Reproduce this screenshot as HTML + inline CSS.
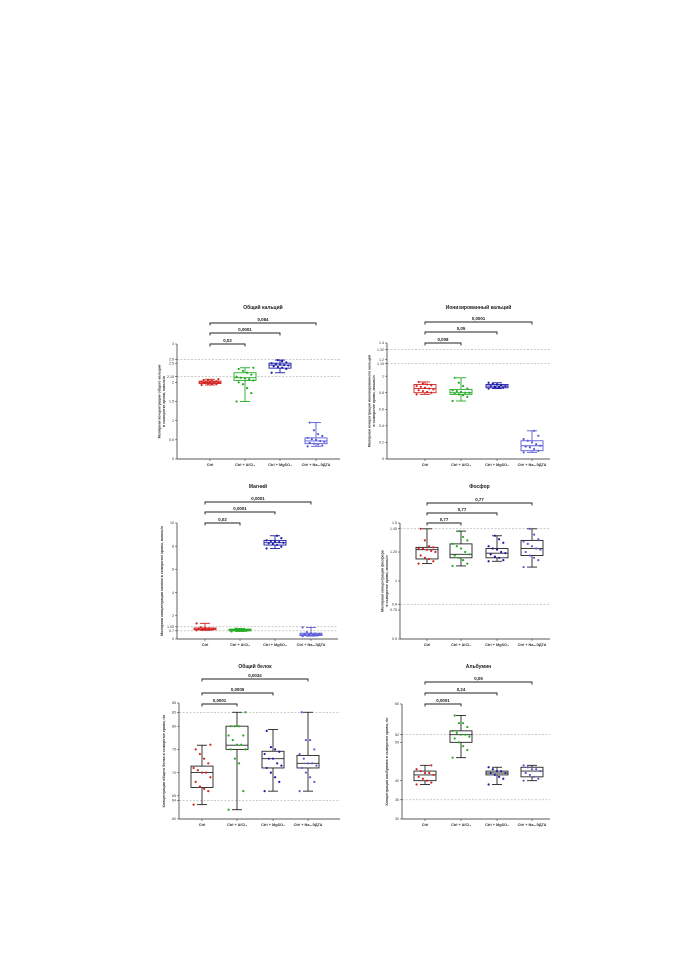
<!DOCTYPE html>
<html><head><meta charset="utf-8">
<style>
html,body{margin:0;padding:0;background:#fff;}
svg{display:block;font-family:"Liberation Sans","DejaVu Sans",sans-serif;}
</style></head>
<body>
<svg id="fig" width="678" height="960" viewBox="0 0 678 960" xmlns="http://www.w3.org/2000/svg"></svg>
<script>
// ---- shared categories ----
const categories = ["Ctrl", "Ctrl + AlCl\u2083", "Ctrl + MgSO\u2084", "Ctrl + Na\u2082-ЭДТА"];
const colors = ["#d42222", "#22aa22", "#1b1ba6", "#5a5ad8"];

// ---- Panel 1: total calcium ----
const caMed = [2.0, 2.12, 2.45, 0.47];
const caQ1 = [1.97, 2.05, 2.37, 0.40];
const caQ3 = [2.03, 2.25, 2.50, 0.55];
const caLo = [1.93, 1.50, 2.25, 0.33];
const caHi = [2.08, 2.38, 2.58, 0.95];
const caPts = [
  [1.93,1.95,1.96,1.97,1.98,1.99,2.0,2.0,2.01,2.02,2.03,2.04,2.05,2.06,2.08],
  [1.5,1.72,1.85,1.95,2.0,2.05,2.08,2.1,2.12,2.15,2.2,2.25,2.3,2.35,2.38],
  [2.25,2.35,2.38,2.4,2.42,2.44,2.45,2.46,2.48,2.5,2.52,2.55,2.58],
  [0.33,0.35,0.38,0.4,0.42,0.45,0.47,0.5,0.52,0.55,0.6,0.65,0.75,0.95]];
const caTicks = [0, 0.5, 1.0, 1.5, 2.0, 2.15, 2.5, 2.6, 3.0];
const caRef = [2.15, 2.6];
const caP = ["0,02", "0,0001", "0,084"];

// ---- Panel 2: ionized calcium ----
const ionMed = [0.85, 0.80, 0.88, 0.16];
const ionQ1 = [0.80, 0.78, 0.86, 0.10];
const ionQ3 = [0.90, 0.84, 0.90, 0.22];
const ionLo = [0.78, 0.70, 0.85, 0.08];
const ionHi = [0.93, 0.98, 0.92, 0.34];
const ionPts = [
  [0.78,0.8,0.81,0.82,0.83,0.84,0.85,0.86,0.87,0.88,0.89,0.9,0.91,0.93],
  [0.7,0.75,0.77,0.78,0.79,0.8,0.8,0.81,0.82,0.83,0.85,0.88,0.92,0.98],
  [0.85,0.86,0.87,0.87,0.88,0.88,0.89,0.9,0.91,0.92],
  [0.08,0.1,0.12,0.14,0.15,0.16,0.18,0.2,0.22,0.24,0.28,0.34]];
const ionTicks = [0, 0.2, 0.4, 0.6, 0.8, 1.0, 1.15, 1.2, 1.32, 1.4];
const ionRef = [1.15, 1.32];
const ionP = ["0,008", "0,05", "0,0001"];

// ---- Panel 3: magnesium ----
const mgMed = [0.85, 0.78, 8.3, 0.40];
const mgQ1 = [0.80, 0.70, 8.1, 0.30];
const mgQ3 = [0.95, 0.85, 8.5, 0.50];
const mgLo = [0.75, 0.65, 7.8, 0.25];
const mgHi = [1.35, 0.90, 8.9, 1.00];
const mgPts = [
  [0.75,0.8,0.82,0.85,0.87,0.9,0.93,0.95,1.0,1.35],
  [0.65,0.7,0.72,0.75,0.78,0.8,0.82,0.85,0.9],
  [7.8,7.95,8.1,8.2,8.25,8.3,8.35,8.4,8.45,8.5,8.7,8.9],
  [0.25,0.3,0.35,0.38,0.4,0.42,0.45,0.5,0.6,1.0]];
const mgTicks = [0, 0.7, 1.05, 2, 4, 6, 8, 10];
const mgRef = [0.7, 1.05];
const mgP = ["0,02", "0,0001", "0,0001"];

// ---- Panel 4: phosphorus ----
const phMed = [1.27, 1.23, 1.24, 1.28];
const phQ1 = [1.19, 1.20, 1.20, 1.22];
const phQ3 = [1.29, 1.32, 1.28, 1.35];
const phLo = [1.15, 1.13, 1.17, 1.12];
const phHi = [1.45, 1.43, 1.39, 1.45];
const phPts = [
  [1.15,1.17,1.19,1.2,1.22,1.25,1.26,1.27,1.28,1.28,1.29,1.3,1.35,1.45],
  [1.13,1.15,1.18,1.2,1.22,1.23,1.25,1.28,1.3,1.32,1.35,1.38,1.43],
  [1.17,1.18,1.2,1.21,1.23,1.24,1.25,1.27,1.28,1.3,1.33,1.36,1.39],
  [1.12,1.18,1.2,1.22,1.25,1.27,1.28,1.3,1.32,1.34,1.36,1.4,1.45]];
const phTicks = [0.5, 0.75, 0.8, 1.0, 1.25, 1.45, 1.5];
const phRef = [0.8, 1.45];
const phP = ["0,77", "0,77", "0,77"];

// ---- Panel 5: total protein ----
const tpMed = [70, 75.9, 73, 72];
const tpQ1 = [66.8, 75, 71, 71];
const tpQ3 = [71.4, 80, 74.6, 73.7];
const tpLo = [63.1, 62, 66, 66];
const tpHi = [75.9, 83, 79.3, 83];
const tpPts = [
  [63.1,66,66.5,67,68,69,70,70,70.5,71,72,73,74,75,76],
  [62,66,72,73,75,75,76,76,77,78,78,80,80,80,83],
  [66,68,69,70,71,71.5,72,73,73,74,74.5,75,75.5,79],
  [66,68,69,70,71,71.5,72,72,73,74,75,77,77,83]];
const tpTicks = [60, 64, 65, 70, 75, 80, 83, 85];
const tpRef = [64, 83];
const tpP = ["0,0001", "0,0005", "0,0034"];

// ---- Panel 6: albumin ----
const alMed = [41.5, 52, 42, 42.5];
const alQ1 = [40, 50, 41.5, 41];
const alQ3 = [42.5, 53, 42.5, 43.5];
const alLo = [39, 46, 39, 40];
const alHi = [44, 57, 43.5, 44];
const alPts = [
  [39,39.5,40,40.5,41,41.5,42,42,42.5,43,44],
  [46,48,49,50,51,51.5,52,52,52.5,53,54,55,55,57],
  [39,40.5,41,41.5,42,42,42.5,42.5,43,43.5],
  [40,40.5,41,41.5,42,42.5,43,43,43.5,44]];
const alTicks = [30, 35, 40, 50, 52, 60];
const alRef = [35, 52];
const alP = ["0,0001", "0,24", "0,05"];

const NS = "http://www.w3.org/2000/svg";
const svg = document.getElementById("fig");
function mk(tag, attrs, parent) {
  const e = document.createElementNS(NS, tag);
  for (const k in attrs) e.setAttribute(k, attrs[k]);
  (parent || svg).appendChild(e);
  return e;
}

const panels = [
  {id:"total-calcium", title:"Общий кальций", ylab:["Молярная концентрация общего кальция","в сыворотке крови, ммоль/л"],
   axX:177, top:344, bot:459, ymin:0, ymax:3.0, cx:[210,245,280,316], right:340, br:[344,333,323], titleY:309,
   med:caMed,q1:caQ1,q3:caQ3,lo:caLo,hi:caHi,pts:caPts,ticks:caTicks,ref:caRef,p:caP,colBox:true},
  {id:"ionized-calcium", title:"Ионизированный кальций", ylab:["Молярная концентрация ионизированного кальция","в сыворотке крови, ммоль/л"],
   axX:387, top:343, bot:459, ymin:0, ymax:1.4, cx:[425,461,497,532], right:550, br:[343,332,322], titleY:309,
   med:ionMed,q1:ionQ1,q3:ionQ3,lo:ionLo,hi:ionHi,pts:ionPts,ticks:ionTicks,ref:ionRef,p:ionP,colBox:true},
  {id:"magnesium", title:"Магний", ylab:["Молярная концентрация магния в сыворотке крови, ммоль/л"],
   axX:177, top:523, bot:639, ymin:0, ymax:10, cx:[205,240,275,311], right:338, br:[523,512,502], titleY:488,
   med:mgMed,q1:mgQ1,q3:mgQ3,lo:mgLo,hi:mgHi,pts:mgPts,ticks:mgTicks,ref:mgRef,p:mgP,colBox:true},
  {id:"phosphorus", title:"Фосфор", ylab:["Молярная концентрация фосфора","в сыворотке крови, ммоль/л"],
   axX:400, top:523, bot:639, ymin:0.5, ymax:1.5, cx:[427,461,497,532], right:550, br:[523,513,503], titleY:488,
   med:phMed,q1:phQ1,q3:phQ3,lo:phLo,hi:phHi,pts:phPts,ticks:phTicks,ref:phRef,p:phP,colBox:false},
  {id:"total-protein", title:"Общий белок", ylab:["Концентрация общего белка в сыворотке крови, г/л"],
   axX:179, top:703, bot:819, ymin:60, ymax:85, cx:[202,237,273,308], right:340, br:[704,693,679], titleY:668,
   med:tpMed,q1:tpQ1,q3:tpQ3,lo:tpLo,hi:tpHi,pts:tpPts,ticks:tpTicks,ref:tpRef,p:tpP,colBox:false},
  {id:"albumin", title:"Альбумин", ylab:["Концентрация альбумина в сыворотке крови, г/л"],
   axX:402, top:704, bot:819, ymin:30, ymax:60, cx:[425,461,497,532], right:550, br:[704,693,682], titleY:668,
   med:alMed,q1:alQ1,q3:alQ3,lo:alLo,hi:alHi,pts:alPts,ticks:alTicks,ref:alRef,p:alP,colBox:false}
];

panels.forEach(P => {
  const g = mk("g", {});
  
  
  const y = v => P.bot - (v - P.ymin) / (P.ymax - P.ymin) * (P.bot - P.top);
  const midX = (P.cx[0] + P.cx[3]) / 2;

  const t = mk("text", {x: midX, y: P.titleY, "font-size": 5, "font-weight": "bold", "text-anchor": "middle", fill: "#222"}, g);
  t.textContent = P.title;
  
  

  // reference lines
  P.ref.forEach(r => {
    const l = mk("line", {x1: P.axX, x2: P.right, y1: y(r), y2: y(r), stroke: "#999", "stroke-width": 0.5, "stroke-dasharray": "2,1.5"}, g);
    
    
  });

  // axes
  const ya = mk("line", {x1: P.axX, x2: P.axX, y1: P.top, y2: P.bot, stroke: "#222", "stroke-width": 0.7}, g);
  
  
  const xa = mk("line", {x1: P.axX, x2: P.right, y1: P.bot, y2: P.bot, stroke: "#222", "stroke-width": 0.7}, g);
  
  

  P.ticks.forEach(v => {
    const tk = mk("line", {x1: P.axX - 2, x2: P.axX, y1: y(v), y2: y(v), stroke: "#222", "stroke-width": 0.5}, g);
    
    
    const tl = mk("text", {x: P.axX - 3, y: y(v) + 1.2, "font-size": 3.6, "text-anchor": "end", fill: "#333"}, g);
    tl.textContent = String(v);
    
    
  });

  // y title
  const n = P.ylab.length;
  P.ylab.forEach((s, i) => {
    const tx = P.axX - 14 - (n - 1 - i) * 4.5 + (n === 1 ? 0 : 2);
    const yl = mk("text", {x: tx, y: (P.top + P.bot) / 2, "font-size": 3.6, "font-weight": "bold", "text-anchor": "middle", fill: "#333", transform: `rotate(-90 ${tx} ${(P.top + P.bot) / 2})`}, g);
    yl.textContent = s;
    
    
  });

  // categories
  categories.forEach((c, i) => {
    const tk = mk("line", {x1: P.cx[i], x2: P.cx[i], y1: P.bot, y2: P.bot + 2, stroke: "#222", "stroke-width": 0.5}, g);
    
    
    const cl = mk("text", {x: P.cx[i], y: P.bot + 7, "font-size": 3.8, "font-weight": "bold", "text-anchor": "middle", fill: "#333"}, g);
    cl.textContent = c;
    
    
  });

  // brackets
  P.p.forEach((pv, k) => {
    const by = P.br[k];
    const x2 = P.cx[k + 1];
    const b = mk("path", {d: `M${P.cx[0]},${by + 2.5} V${by} H${x2} V${by + 2.5}`, fill: "none", stroke: "#222", "stroke-width": 0.9}, g);
    
    
    const bl = mk("text", {x: (P.cx[0] + x2) / 2, y: by - 2, "font-size": 4.4, "font-weight": "bold", "text-anchor": "middle", fill: "#222"}, g);
    bl.textContent = pv;
    
    
  });

  // boxes
  categories.forEach((c, i) => {
    const cx = P.cx[i], w = 22, col = colors[i];
    const sc = P.colBox ? col : "#222";
    const wh = mk("line", {x1: cx, x2: cx, y1: y(P.lo[i]), y2: y(P.hi[i]), stroke: sc, "stroke-width": 0.9}, g);
    
    
    [P.lo[i], P.hi[i]].forEach(v => {
      const cap = mk("line", {x1: cx - 5, x2: cx + 5, y1: y(v), y2: y(v), stroke: sc, "stroke-width": 0.9}, g);
      
      
    });
    const bx = mk("rect", {x: cx - w / 2, y: y(P.q3[i]), width: w, height: Math.max(0.5, y(P.q1[i]) - y(P.q3[i])), fill: "#fff", stroke: sc, "stroke-width": 0.9}, g);
    
    
    const md = mk("line", {x1: cx - w / 2, x2: cx + w / 2, y1: y(P.med[i]), y2: y(P.med[i]), stroke: sc, "stroke-width": 0.9}, g);
    
    
    P.pts[i].forEach((v, j) => {
      const off = ((j * 7) % 9 - 4) * 2.1;
      const pt = mk("circle", {cx: cx + off, cy: y(v), r: 1.1, fill: col}, g);
      
      
    });
  });
});
</script>
</body></html>
